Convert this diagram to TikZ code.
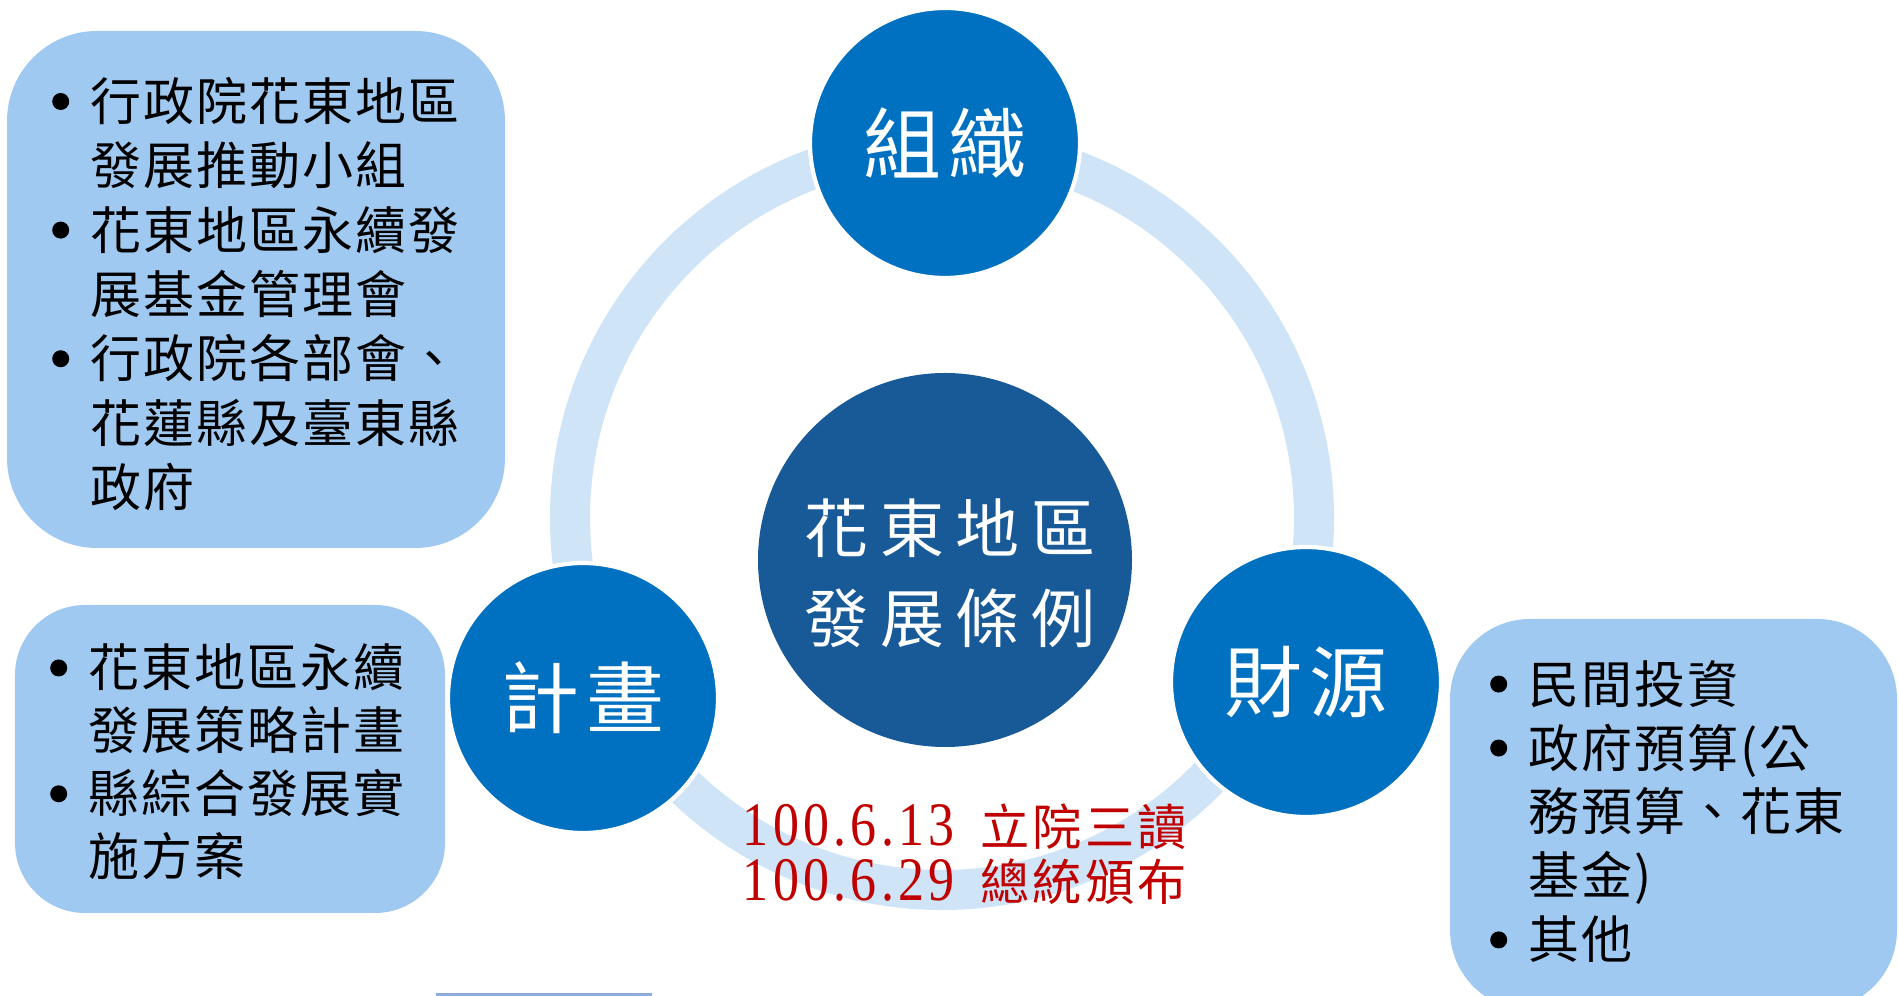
\documentclass[tikz,border=0pt]{standalone}
\usepackage{fontspec}
\usepackage{xcolor}
\setmainfont{Noto Sans CJK TC}
\newfontfamily\boxfont[LetterSpace=4]{Noto Sans CJK TC}
\newfontfamily\circfont[LetterSpace=9]{Noto Sans CJK TC}
\newfontfamily\lawfont[LetterSpace=18]{Noto Sans CJK TC}
\newfontfamily\redfont[LetterSpace=6]{Noto Sans CJK TC}
\newfontfamily\numfont[FakeStretch=0.84,LetterSpace=7]{Liberation Serif}

\definecolor{ringblue}{RGB}{207,228,247}
\definecolor{circblue}{RGB}{0,112,192}
\definecolor{lawblue}{RGB}{24,90,152}
\definecolor{boxblue}{RGB}{160,201,241}
\definecolor{datered}{RGB}{192,0,0}
\definecolor{stripblue}{RGB}{143,170,220}

\newcommand{\itm}{\makebox[0.385cm][l]{\tikz[baseline=-0.19cm]\fill (0,0) circle (0.085);}}
\newcommand{\cnt}{\hspace*{0.385cm}}
\newcommand{\cjkred}{\redfont\fontsize{14pt}{15.8pt}\selectfont}

\begin{document}
\begin{tikzpicture}[
  ring/.style={draw=ringblue, line width=11.4pt},
  smallcirc/.style={circle, fill=circblue, draw=white, line width=1.2pt,
    minimum size=2.7cm, inner sep=0pt, text=white,
    font=\circfont\fontsize{22.2pt}{26pt}\selectfont},
  bigcirc/.style={circle, fill=lawblue, minimum size=3.74cm, inner sep=0pt},
  lawtext/.style={text=white, align=center, inner sep=0pt,
    font=\lawfont\fontsize{18.2pt}{25.6pt}\selectfont},
  listbox/.style={fill=boxblue, rounded corners=#1},
  listbox/.default=0.8cm,
  listtext/.style={anchor=west, inner sep=0pt, align=left,
    font=\boxfont\fontsize{14.5pt}{#1}\selectfont},
  listtext/.default=17pt,
  datetext/.style={anchor=west, inner sep=0pt, align=left, text=datered,
    font=\numfont\fontsize{17.6pt}{15.8pt}\selectfont}
]
\useasboundingbox (0,0) rectangle (18.99,9.96);

\coordinate (ringc) at (9.42,4.78);
\draw[ring] (ringc) circle (3.72);

\node[bigcirc] (law) at (9.45,4.36) {};
\node[lawtext] (lawname) at ([xshift=0.05cm,yshift=-0.13cm]law.center) {花東地區\\發展條例};

\node[smallcirc] (org) at (9.45,8.53) {組織};
\node[smallcirc] (plan) at (5.83,2.98) {計畫};
\node[smallcirc] (fund) at (13.06,3.14) {財源};

\fill[listbox=0.9cm] (0.07,4.48) rectangle (5.05,9.65);
\node[listtext=18.3pt] (orglist) at (0.515,7.02) {\itm 行政院花東地區\\
  \cnt 發展推動小組\\
  \itm 花東地區永續發\\
  \cnt 展基金管理會\\
  \itm 行政院各部會、\\
  \cnt 花蓮縣及臺東縣\\
  \cnt 政府};

\fill[listbox=0.7cm] (0.15,0.83) rectangle (4.45,3.91);
\node[listtext=17.9pt] (planlist) at (0.495,2.34) {\itm 花東地區永續\\
  \cnt 發展策略計畫\\
  \itm 縣綜合發展實\\
  \cnt 施方案};

\fill[listbox=0.8cm] (14.50,-0.14) rectangle (18.97,3.77);
\node[listtext=18.2pt] (fundlist) at (14.895,1.845) {\itm 民間投資\\
  \itm 政府預算(公\\
  \cnt 務預算、花東\\
  \cnt 基金)\\
  \itm 其他};

\node[datetext] (dates) at (7.42,1.42) {100.6.13\hspace{7.4pt}{\cjkred 立院三讀}\\
  100.6.29\hspace{7.4pt}{\cjkred 總統頒布}};

\fill[stripblue] (4.36,0) rectangle (6.52,0.025);

\end{tikzpicture}
\end{document}
